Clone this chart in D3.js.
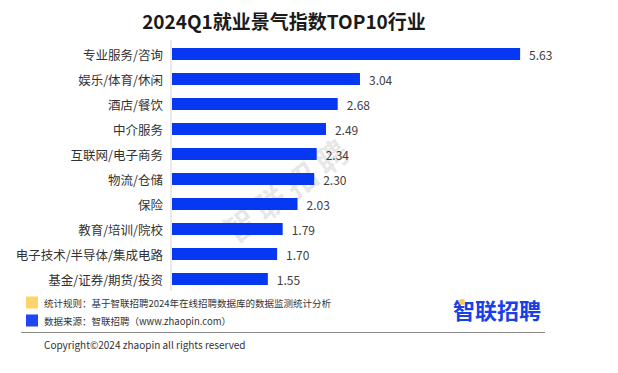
<!DOCTYPE html>
<html>
<head>
<meta charset="utf-8">
<script src="https://cdn.jsdelivr.net/npm/d3@7"></script>
<style>
  body { margin: 0; background: #fff; }
  text { font-family: "Noto Sans CJK SC", "Noto Sans", sans-serif; }
</style>
</head>
<body>
<div id="chart"></div>
<script>
const width = 618;
const height = 373;

const industries = [
    "专业服务/咨询",
    "娱乐/体育/休闲",
    "酒店/餐饮",
    "中介服务",
    "互联网/电子商务",
    "物流/仓储",
    "保险",
    "教育/培训/院校",
    "电子技术/半导体/集成电路",
    "基金/证券/期货/投资"
];
const index = [5.63, 3.04, 2.68, 2.49, 2.34, 2.30, 2.03, 1.79, 1.70, 1.55];

const notes = [
    "统计规则：基于智联招聘2024年在线招聘数据库的数据监测统计分析",
    "数据来源：智联招聘（www.zhaopin.com）"
];

const svg = d3.select("#chart")
    .append("svg")
    .attr("width", width)
    .attr("height", height);

const x = d3.scaleLinear()
    .domain([0, 6])
    .range([172, 543]);

const y = d3.scaleBand()
    .domain(industries)
    .range([41.5, 291.5])
    .paddingInner(0.52)
    .paddingOuter(0.26);

// watermark
svg.append("text")
    .attr("transform", "translate(287,188) rotate(-37)")
    .attr("text-anchor", "middle")
    .attr("dominant-baseline", "central")
    .attr("font-size", 32)
    .attr("font-weight", "bold")
    .attr("fill", "#000")
    .attr("fill-opacity", 0.1)
    .attr("letter-spacing", 6)
    .text("智联招聘");

svg.append("text")
    .attr("x", 284)
    .attr("y", 20)
    .attr("text-anchor", "middle")
    .attr("dominant-baseline", "central")
    .attr("font-size", 19)
    .attr("font-weight", "bold")
    .attr("fill", "#1a1a1a")
    .text("2024Q1就业景气指数TOP10行业");

// axis line
svg.append("line")
    .attr("x1", 171).attr("x2", 171)
    .attr("y1", 40).attr("y2", 291)
    .attr("stroke", "#dcdcdc")
    .attr("stroke-width", 1.2);

svg.selectAll("rect.bar")
    .data(index)
    .enter()
    .append("rect")
    .attr("class", "bar")
    .attr("x", x(0))
    .attr("y", (d, i) => y(industries[i]))
    .attr("width", d => x(d) - x(0))
    .attr("height", y.bandwidth())
    .attr("fill", "#0538f0");

svg.selectAll("text.cat")
    .data(industries)
    .enter()
    .append("text")
    .attr("class", "cat")
    .attr("x", 163)
    .attr("y", d => y(d) + y.bandwidth() / 2)
    .attr("text-anchor", "end")
    .attr("dominant-baseline", "central")
    .attr("font-size", 12.5)
    .attr("fill", "#333")
    .text(d => d);

svg.selectAll("text.val")
    .data(index)
    .enter()
    .append("text")
    .attr("class", "val")
    .attr("x", d => x(d) + 9)
    .attr("y", (d, i) => y(industries[i]) + y.bandwidth() / 2)
    .attr("dominant-baseline", "central")
    .attr("font-size", 12)
    .attr("fill", "#404040")
    .text(d => d.toFixed(2));

// notes
const noteColors = ["#fdd46a", "#1f45f5"];
notes.forEach((t, i) => {
    const cy = 302.5 + i * 18;
    svg.append("rect")
        .attr("x", 26).attr("y", cy - 6)
        .attr("width", 12).attr("height", 12)
        .attr("fill", noteColors[i]);
    svg.append("text")
        .attr("x", 44).attr("y", cy)
        .attr("dominant-baseline", "central")
        .attr("font-size", 9.5)
        .attr("fill", "#333")
        .text(t);
});

// logo
svg.append("text")
    .attr("x", 497)
    .attr("y", 308.5)
    .attr("text-anchor", "middle")
    .attr("dominant-baseline", "central")
    .attr("font-size", 22)
    .attr("font-weight", "bold")
    .attr("fill", "#1740e6")
    .text("智联招聘");
svg.append("circle")
    .attr("cx", 462).attr("cy", 302)
    .attr("r", 3)
    .attr("fill", "#fdc84a");

svg.append("line")
    .attr("x1", 21).attr("x2", 545)
    .attr("y1", 332.5).attr("y2", 332.5)
    .attr("stroke", "#8a8a8a")
    .attr("stroke-width", 1);

svg.append("text")
    .attr("x", 44)
    .attr("y", 344)
    .attr("dominant-baseline", "central")
    .attr("font-size", 10)
    .attr("fill", "#333")
    .text("Copyright©2024 zhaopin all rights reserved");
</script>
</body>
</html>
